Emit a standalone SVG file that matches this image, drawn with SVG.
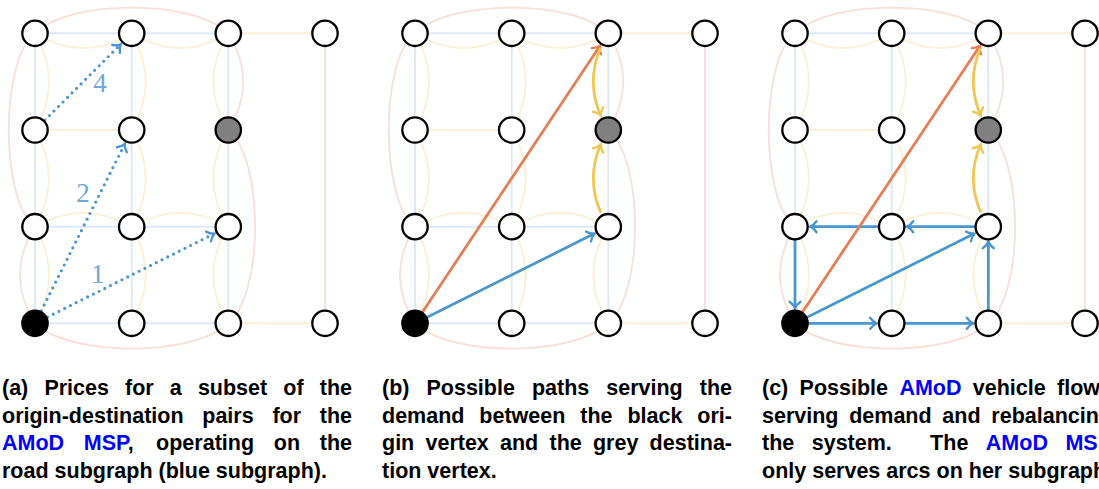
<svg xmlns="http://www.w3.org/2000/svg" xmlns:xlink="http://www.w3.org/1999/xlink" width="1099" height="489" viewBox="0 0 1099 489">
<style>
.eb{fill:none;stroke:#dde9f5;stroke-width:1.9}
.ey{fill:none;stroke:#fbefd5;stroke-width:1.9}
.ep{fill:none;stroke:#f8dfd7;stroke-width:1.9}
.node circle{fill:#fff;stroke:#000;stroke-width:2.3}
.node.o circle{fill:#000}
.node.d circle{fill:#808080}
.dot{fill:none;stroke:#4b96cf;stroke-width:3.2;stroke-linecap:round;stroke-dasharray:0 6.4;marker-end:url(#ab)}
.fb{fill:none;stroke:#4b96cf;stroke-width:2.8;marker-end:url(#ab)}
.fo{fill:none;stroke:#e47e56;stroke-width:2.8;marker-end:url(#ao)}
.fy{fill:none;stroke:#efc652;stroke-width:2.8;marker-end:url(#ay)}
.lbl{font-family:"Liberation Serif",serif;font-size:27px;fill:#6fa7d9;text-anchor:middle}
.cap{font-family:"Liberation Sans",Arial,sans-serif;font-size:21.5px;font-weight:bold;fill:#000}
.bl{fill:#0000ff}
</style>
<defs>
<marker id="ab" markerUnits="userSpaceOnUse" orient="auto" overflow="visible" markerWidth="1" markerHeight="1"><path d="M-6.5,-5.5 C-4.3,-2.4 -1.6,-0.6 0,0 C-1.6,0.6 -4.3,2.4 -6.5,5.5" fill="none" stroke="#4b96cf" stroke-width="2.4" stroke-linecap="round"/></marker>
<marker id="ao" markerUnits="userSpaceOnUse" orient="auto" overflow="visible" markerWidth="1" markerHeight="1"><path d="M-6.5,-5.5 C-4.3,-2.4 -1.6,-0.6 0,0 C-1.6,0.6 -4.3,2.4 -6.5,5.5" fill="none" stroke="#e47e56" stroke-width="2.4" stroke-linecap="round"/></marker>
<marker id="ay" markerUnits="userSpaceOnUse" orient="auto" overflow="visible" markerWidth="1" markerHeight="1"><path d="M-6.5,-5.5 C-4.3,-2.4 -1.6,-0.6 0,0 C-1.6,0.6 -4.3,2.4 -6.5,5.5" fill="none" stroke="#efc652" stroke-width="2.4" stroke-linecap="round"/></marker>
<g id="base">
<path class="eb" d="M35,33.3 H228.3 M35,226.7 H228.3 M35,323.3 H228.3 M35,33.3 V323.3 M131.7,33.3 V323.3 M228.3,33.3 V323.3"/>
<path class="ey" d="M228.3,33.3 H325 M228.3,323.3 H325 M35,130 H131.7
M35,33.3 Q83.3,63 131.7,33.3 M131.7,33.3 Q180,63 228.3,33.3
M35,33.3 Q63,81.7 35,130 M131.7,33.3 Q159.7,81.7 131.7,130 M228.3,33.3 Q198.3,81.7 228.3,130
M35,130 Q63,178.3 35,226.7 M131.7,130 Q159.7,178.3 131.7,226.7 M228.3,130 Q198.3,178.3 228.3,226.7
M35,226.7 Q83.3,199 131.7,226.7 M131.7,226.7 Q180,199 228.3,226.7
M35,226.7 Q63,275 35,323.3 M131.7,226.7 Q159.7,275 131.7,323.3 M228.3,226.7 Q198.3,275 228.3,323.3"/>
<path class="ep" d="M35,33.3 C70,-1 193,-1 228.3,33.3 M35,33.3 C0,60 0,200 35,226.7 M35,226.7 Q5,275 35,323.3
M35,323.3 C70,357 193,357 228.3,323.3 M228.3,33.3 Q258.3,81.7 228.3,130 M228.3,130 C264,160 264,293 228.3,323.3 M325,33.3 V323.3"/>
</g>
</defs>

<g id="background-edges">
<use xlink:href="#base"/>
<use xlink:href="#base" transform="translate(380,0)"/>
<use xlink:href="#base" transform="translate(760,0)"/>
</g>

<g id="connectors">
<path class="dot" d="M44.9,120.1 L120.7,44.3"/>
<path class="dot" d="M41.3,310.8 L124.8,143.9"/>
<path class="dot" d="M47.5,317 L214.4,233.6"/>
<path class="fb" d="M426.6,317.5 L594.4,233.6"/>
<path class="fo" d="M422.2,312.5 L600,45.8"/>
<path class="fy" d="M600.65,47.8 Q585.95,81.65 600.65,115.5"/>
<path class="fy" d="M600.65,212.2 Q585.95,178.35 600.65,144.5"/>
<path class="fb" d="M806.6,317.5 L974.4,233.6"/>
<path class="fb" d="M808,323.3 H876.7"/>
<path class="fb" d="M904.7,323.3 H973.3"/>
<path class="fb" d="M988.3,310.3 V241.7"/>
<path class="fb" d="M975.3,226.7 H906.7"/>
<path class="fb" d="M878.7,226.7 H810"/>
<path class="fb" d="M795,239.7 V308.3"/>
<path class="fo" d="M802.2,312.5 L980,45.8"/>
<path class="fy" d="M980.65,47.8 Q965.95,81.65 980.65,115.5"/>
<path class="fy" d="M980.65,212.2 Q965.95,178.35 980.65,144.5"/>
<text class="lbl" x="100" y="91.5">4</text>
<text class="lbl" x="83" y="202.3">2</text>
<text class="lbl" x="97.7" y="282.7">1</text>
</g>

<g id="nodes-a">
<g id="a-0-0" class="node"><circle cx="35" cy="33.3" r="12.7"/></g>
<g id="a-0-1" class="node"><circle cx="131.7" cy="33.3" r="12.7"/></g>
<g id="a-0-2" class="node"><circle cx="228.3" cy="33.3" r="12.7"/></g>
<g id="a-0-3" class="node"><circle cx="325" cy="33.3" r="12.7"/></g>
<g id="a-1-0" class="node"><circle cx="35" cy="130" r="12.7"/></g>
<g id="a-1-1" class="node"><circle cx="131.7" cy="130" r="12.7"/></g>
<g id="a-1-2" class="node d"><circle cx="228.3" cy="130" r="12.7"/></g>
<g id="a-2-0" class="node"><circle cx="35" cy="226.7" r="12.7"/></g>
<g id="a-2-1" class="node"><circle cx="131.7" cy="226.7" r="12.7"/></g>
<g id="a-2-2" class="node"><circle cx="228.3" cy="226.7" r="12.7"/></g>
<g id="a-3-0" class="node o"><circle cx="35" cy="323.3" r="12.7"/></g>
<g id="a-3-1" class="node"><circle cx="131.7" cy="323.3" r="12.7"/></g>
<g id="a-3-2" class="node"><circle cx="228.3" cy="323.3" r="12.7"/></g>
<g id="a-3-3" class="node"><circle cx="325" cy="323.3" r="12.7"/></g>
</g>
<g id="nodes-b">
<g id="b-0-0" class="node"><circle cx="415" cy="33.3" r="12.7"/></g>
<g id="b-0-1" class="node"><circle cx="511.7" cy="33.3" r="12.7"/></g>
<g id="b-0-2" class="node"><circle cx="608.3" cy="33.3" r="12.7"/></g>
<g id="b-0-3" class="node"><circle cx="705" cy="33.3" r="12.7"/></g>
<g id="b-1-0" class="node"><circle cx="415" cy="130" r="12.7"/></g>
<g id="b-1-1" class="node"><circle cx="511.7" cy="130" r="12.7"/></g>
<g id="b-1-2" class="node d"><circle cx="608.3" cy="130" r="12.7"/></g>
<g id="b-2-0" class="node"><circle cx="415" cy="226.7" r="12.7"/></g>
<g id="b-2-1" class="node"><circle cx="511.7" cy="226.7" r="12.7"/></g>
<g id="b-2-2" class="node"><circle cx="608.3" cy="226.7" r="12.7"/></g>
<g id="b-3-0" class="node o"><circle cx="415" cy="323.3" r="12.7"/></g>
<g id="b-3-1" class="node"><circle cx="511.7" cy="323.3" r="12.7"/></g>
<g id="b-3-2" class="node"><circle cx="608.3" cy="323.3" r="12.7"/></g>
<g id="b-3-3" class="node"><circle cx="705" cy="323.3" r="12.7"/></g>
</g>
<g id="nodes-c">
<g id="c-0-0" class="node"><circle cx="795" cy="33.3" r="12.7"/></g>
<g id="c-0-1" class="node"><circle cx="891.7" cy="33.3" r="12.7"/></g>
<g id="c-0-2" class="node"><circle cx="988.3" cy="33.3" r="12.7"/></g>
<g id="c-0-3" class="node"><circle cx="1085" cy="33.3" r="12.7"/></g>
<g id="c-1-0" class="node"><circle cx="795" cy="130" r="12.7"/></g>
<g id="c-1-1" class="node"><circle cx="891.7" cy="130" r="12.7"/></g>
<g id="c-1-2" class="node d"><circle cx="988.3" cy="130" r="12.7"/></g>
<g id="c-2-0" class="node"><circle cx="795" cy="226.7" r="12.7"/></g>
<g id="c-2-1" class="node"><circle cx="891.7" cy="226.7" r="12.7"/></g>
<g id="c-2-2" class="node"><circle cx="988.3" cy="226.7" r="12.7"/></g>
<g id="c-3-0" class="node o"><circle cx="795" cy="323.3" r="12.7"/></g>
<g id="c-3-1" class="node"><circle cx="891.7" cy="323.3" r="12.7"/></g>
<g id="c-3-2" class="node"><circle cx="988.3" cy="323.3" r="12.7"/></g>
<g id="c-3-3" class="node"><circle cx="1085" cy="323.3" r="12.7"/></g>
</g>

<g id="captions">
<text class="cap" y="395"><tspan x="2">(a)</tspan><tspan x="44.39">Prices</tspan><tspan x="125.05">for</tspan><tspan x="169.83">a</tspan><tspan x="197.9">subset</tspan><tspan x="283.31">of</tspan><tspan x="319.73">the</tspan></text>
<text class="cap" y="422.5"><tspan x="2">origin-destination</tspan><tspan x="202.28">pairs</tspan><tspan x="272.38">for</tspan><tspan x="319.75">the</tspan></text>
<text class="cap" y="450"><tspan x="2" class="bl">AMoD</tspan><tspan x="83.81" class="bl">MSP</tspan><tspan>,</tspan><tspan x="156.1">operating</tspan><tspan x="273.77">on</tspan><tspan x="319.76">the</tspan></text>
<text class="cap" x="2" y="477.5">road subgraph (blue subgraph).</text>

<text class="cap" y="395"><tspan x="382">(b)</tspan><tspan x="426.47">Possible</tspan><tspan x="531.91">paths</tspan><tspan x="606.26">serving</tspan><tspan x="699.75">the</tspan></text>
<text class="cap" y="422.5"><tspan x="382">demand</tspan><tspan x="479.35">between</tspan><tspan x="580.29">the</tspan><tspan x="627.46">black</tspan><tspan x="697.36">ori-</tspan></text>
<text class="cap" y="450"><tspan x="382">gin</tspan><tspan x="425.47">vertex</tspan><tspan x="500.03">and</tspan><tspan x="549.48">the</tspan><tspan x="592.95">grey</tspan><tspan x="649.58">destina-</tspan></text>
<text class="cap" x="382" y="477.5">tion vertex.</text>

<text class="cap" y="395"><tspan x="762">(c)</tspan><tspan x="799.61">Possible</tspan><tspan x="899.38" class="bl">AMoD</tspan><tspan x="972.81">vehicle</tspan><tspan x="1057.06">flows</tspan></text>
<text class="cap" y="422.5"><tspan x="762">serving</tspan><tspan x="849.21">demand</tspan><tspan x="942.37">and</tspan><tspan x="991.33">rebalancing</tspan></text>
<text class="cap" y="450"><tspan x="762">the</tspan><tspan x="811.75">system.</tspan><tspan x="930.12">The</tspan><tspan x="985.85" class="bl">AMoD</tspan><tspan x="1065.44" class="bl">MSP</tspan></text>
<text class="cap" x="762" y="477.5">only serves arcs on her subgraph.</text>
</g>
</svg>
